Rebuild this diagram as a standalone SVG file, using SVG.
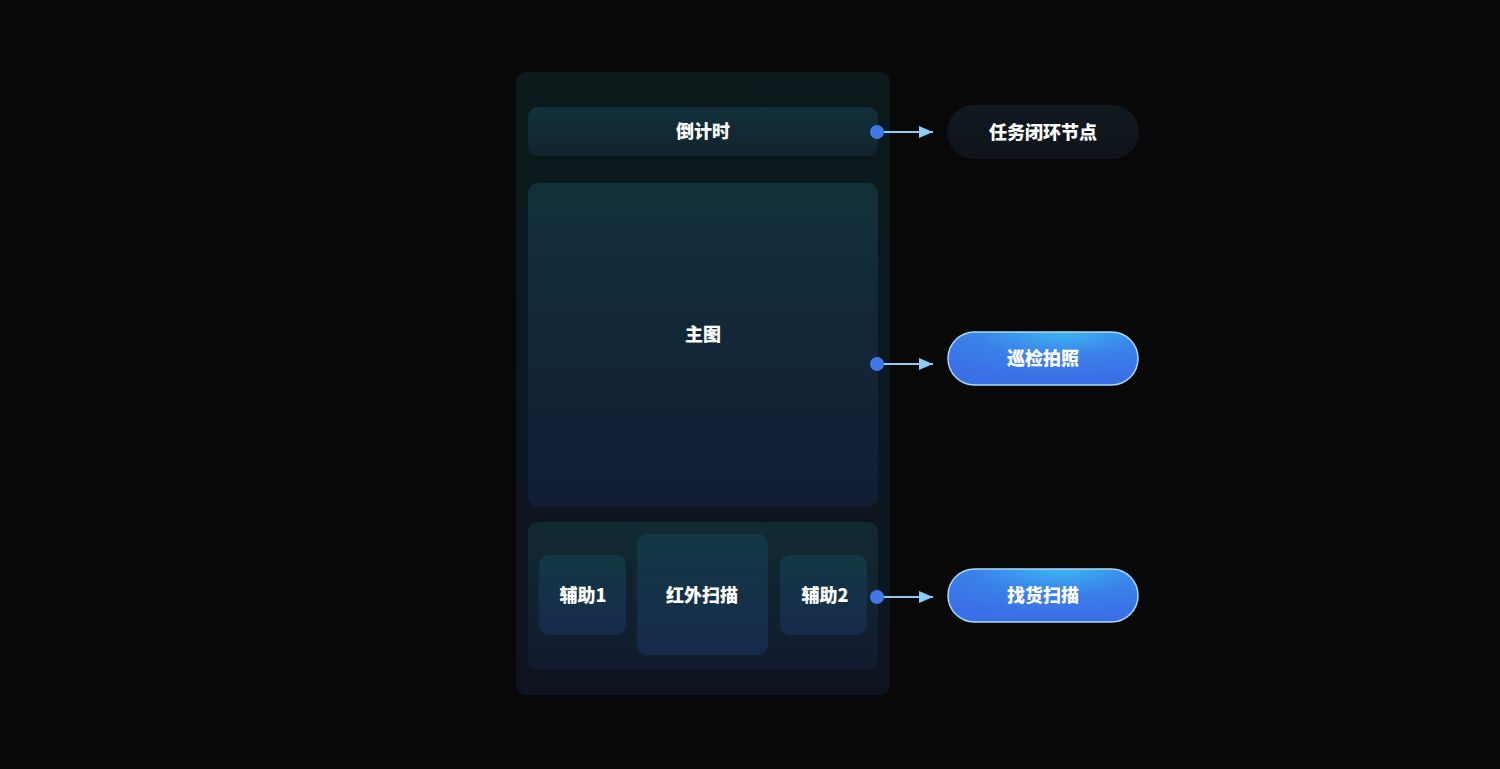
<svg xmlns="http://www.w3.org/2000/svg" width="1500" height="769" viewBox="0 0 1500 769">
<defs>
<linearGradient id="gOuter" x1="0" y1="0" x2="0" y2="1"><stop offset="0" stop-color="#0c1a1c"/><stop offset="1" stop-color="#0d1420"/></linearGradient>
<linearGradient id="gBar" x1="0" y1="0" x2="0" y2="1"><stop offset="0" stop-color="#11313a"/><stop offset="1" stop-color="#11232f"/></linearGradient>
<linearGradient id="gMain" x1="0" y1="0" x2="0" y2="1"><stop offset="0" stop-color="#12303a"/><stop offset="1" stop-color="#121d34"/></linearGradient>
<linearGradient id="gBottom" x1="0" y1="0" x2="0" y2="1"><stop offset="0" stop-color="#112a33"/><stop offset="1" stop-color="#111b2d"/></linearGradient>
<linearGradient id="gTile" x1="0" y1="0" x2="0" y2="1"><stop offset="0" stop-color="#133844"/><stop offset="1" stop-color="#162a4c"/></linearGradient>
<linearGradient id="gDark" x1="0" y1="0" x2="0" y2="1"><stop offset="0" stop-color="#0f1a20"/><stop offset="1" stop-color="#0e141a"/></linearGradient>
<radialGradient id="gBlue" cx="0.6" cy="0" r="0.9"><stop offset="0" stop-color="#3cb4f0"/><stop offset="0.5" stop-color="#3a82ea"/><stop offset="1" stop-color="#3b6fe6"/></radialGradient>
<marker id="arr" viewBox="0 0 14 12" refX="14" refY="6" markerWidth="14" markerHeight="12" markerUnits="userSpaceOnUse" orient="auto"><path d="M0,0 L14,6 L0,12 z" fill="#8ecbf2"/></marker>
</defs>
<style>
.t{font-family:"Noto Sans CJK SC","Noto Sans",sans-serif;font-weight:900;font-size:18px;fill:#ffffff;text-anchor:middle;dominant-baseline:central}
.ln{stroke:#8ecbf2;stroke-width:2;fill:none}
.dot{fill:#3f79e8}
</style>
<rect width="1500" height="769" fill="#080808"/>
<g id="panel">
<rect x="516" y="72" width="374" height="623" rx="10" fill="url(#gOuter)"/>
</g>
<g id="countdown">
<rect x="528" y="107" width="350" height="49" rx="10" fill="url(#gBar)"/>
<text class="t" x="703" y="130">倒计时</text>
</g>
<g id="main-image">
<rect x="528" y="183" width="350" height="324" rx="10" fill="url(#gMain)"/>
<text class="t" x="703" y="333">主图</text>
</g>
<g id="bottom-panel">
<rect x="528" y="522" width="350" height="148" rx="10" fill="url(#gBottom)"/>
</g>
<g id="aux1">
<rect x="539" y="555" width="87" height="80" rx="10" fill="url(#gTile)"/>
<text class="t" x="583" y="594">辅助1</text>
</g>
<g id="infrared">
<rect x="637" y="534" width="131" height="121" rx="10" fill="url(#gTile)"/>
<text class="t" x="702" y="594">红外扫描</text>
</g>
<g id="aux2">
<rect x="780" y="555" width="87" height="80" rx="10" fill="url(#gTile)"/>
<text class="t" x="825" y="594">辅助2</text>
</g>
<g id="connectors">
<line class="ln" x1="877" y1="132" x2="933" y2="132" marker-end="url(#arr)"/>
<line class="ln" x1="877" y1="364" x2="933" y2="364" marker-end="url(#arr)"/>
<line class="ln" x1="877" y1="597" x2="933" y2="597" marker-end="url(#arr)"/>
<circle class="dot" cx="877" cy="132" r="7"/>
<circle class="dot" cx="877" cy="364" r="7"/>
<circle class="dot" cx="877" cy="597" r="7"/>
</g>
<g id="task-loop">
<rect x="947" y="105" width="192" height="54" rx="27" fill="url(#gDark)"/>
<text class="t" x="1043" y="131">任务闭环节点</text>
</g>
<g id="patrol-photo">
<rect x="948" y="332" width="190" height="53" rx="26.5" fill="url(#gBlue)" stroke="#a6dcf3" stroke-width="1.5"/>
<text class="t" x="1043" y="357">巡检拍照</text>
</g>
<g id="find-scan">
<rect x="948" y="569" width="190" height="53" rx="26.5" fill="url(#gBlue)" stroke="#a6dcf3" stroke-width="1.5"/>
<text class="t" x="1043" y="594">找货扫描</text>
</g>
</svg>
